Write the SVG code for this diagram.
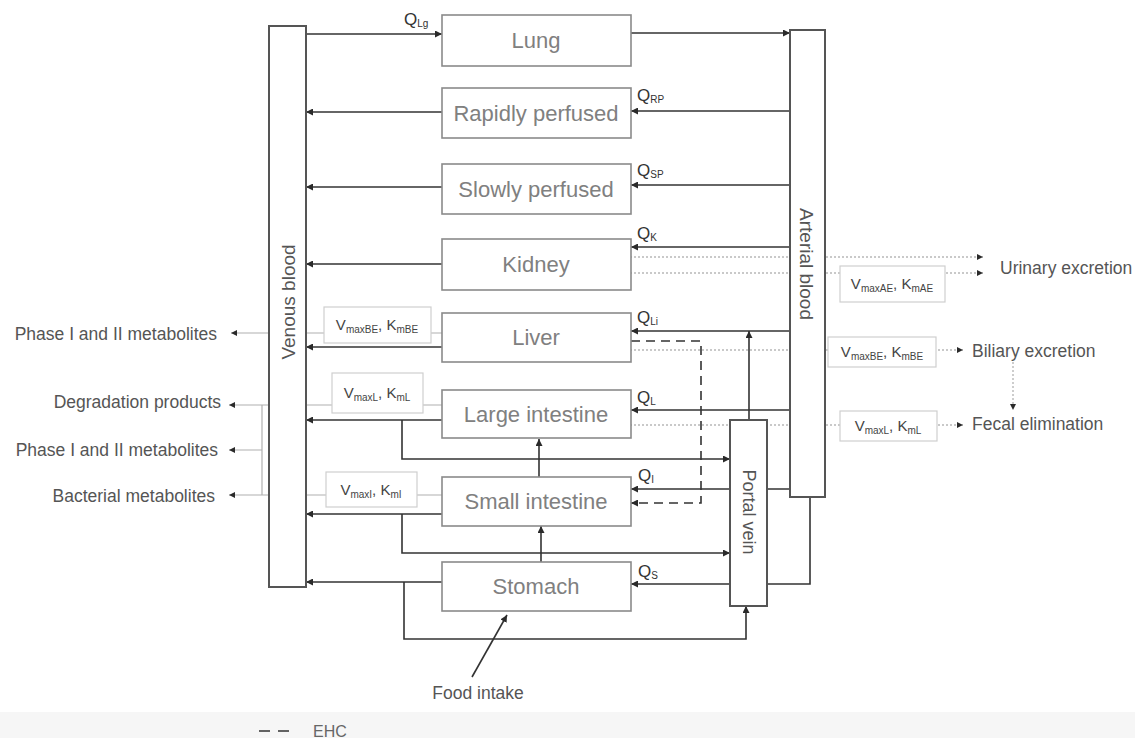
<svg xmlns="http://www.w3.org/2000/svg" width="1135" height="738" viewBox="0 0 1135 738">
<defs>
<marker id="ah" markerUnits="userSpaceOnUse" markerWidth="8" markerHeight="7" refX="7" refY="3.5" orient="auto">
<path d="M0,0 L7,3.5 L0,7 z" fill="#2a2a2a"/>
</marker>
<marker id="ahs" markerUnits="userSpaceOnUse" markerWidth="7" markerHeight="6" refX="6" refY="3" orient="auto">
<path d="M0,0 L6,3 L0,6 z" fill="#2a2a2a"/>
</marker>
</defs>
<style>
.bg{fill:#f6f6f6}
.organ{fill:#fff;stroke:#8a8a8a;stroke-width:1.6}
.blood{fill:#fff;stroke:#555;stroke-width:2}
.vk{fill:#fff;stroke:#cfcfcf;stroke-width:1.2}
.ol{font-family:"Liberation Sans",Arial,sans-serif;font-size:22px;fill:#808080;text-anchor:middle;dominant-baseline:central}
.bl{font-family:"Liberation Sans",Arial,sans-serif;font-size:19px;fill:#555;text-anchor:middle;dominant-baseline:central}
.sl{font-family:"Liberation Sans",Arial,sans-serif;font-size:17.5px;fill:#555;dominant-baseline:central}
.q{font-family:"Liberation Sans",Arial,sans-serif;font-size:17px;fill:#333}
.vt{font-family:"Liberation Sans",Arial,sans-serif;font-size:15px;fill:#444;text-anchor:middle}
.sub{font-size:10px}
.c{fill:none;stroke:#333;stroke-width:1.6}
.dot{fill:none;stroke:#b8b8b8;stroke-width:1.4;stroke-dasharray:2 2}
.thin{fill:none;stroke:#b0b0b0;stroke-width:1.2}
.ehc{fill:none;stroke:#333;stroke-width:1.6;stroke-dasharray:9 6}
</style>
<rect class="bg" x="0" y="712" width="1135" height="26"/>
<g id="connectors">
<!-- dotted elimination lines -->
<path class="dot" d="M630,257 H983" marker-end="url(#ahs)"/>
<path class="dot" d="M630,273 H983" marker-end="url(#ahs)"/>
<path class="dot" d="M630,350 H963" marker-end="url(#ahs)"/>
<path class="dot" d="M630,425 H963" marker-end="url(#ahs)"/>
<path class="dot" d="M1013,362 V410" marker-end="url(#ahs)"/>
<path class="thin" d="M442,333 H231" marker-end="url(#ahs)"/>
<path class="thin" d="M442,405 H229" marker-end="url(#ahs)"/>
<path class="thin" d="M442,495 H229" marker-end="url(#ahs)"/>
<path class="thin" d="M262,405 V495"/>
<path class="thin" d="M262,450 H229" marker-end="url(#ahs)"/>
<!-- blood flows -->
<path class="c" d="M306,34 H442" marker-end="url(#ah)"/>
<path class="c" d="M626,33 H790" marker-end="url(#ah)"/>
<path class="c" d="M790,111 H631" marker-end="url(#ah)"/>
<path class="c" d="M442,112 H306" marker-end="url(#ah)"/>
<path class="c" d="M790,185 H631" marker-end="url(#ah)"/>
<path class="c" d="M442,187 H306" marker-end="url(#ah)"/>
<path class="c" d="M790,247 H631" marker-end="url(#ah)"/>
<path class="c" d="M442,264 H306" marker-end="url(#ah)"/>
<path class="c" d="M790,331 H631" marker-end="url(#ah)"/>
<path class="c" d="M442,347 H306" marker-end="url(#ah)"/>
<path class="c" d="M790,410 H631" marker-end="url(#ah)"/>
<path class="c" d="M442,420 H306" marker-end="url(#ah)"/>
<path class="c" d="M402,420 V459 H730" marker-end="url(#ah)"/>
<path class="c" d="M790,489 H631" marker-end="url(#ah)"/>
<path class="c" d="M442,514 H306" marker-end="url(#ah)"/>
<path class="c" d="M402,514 V553 H730" marker-end="url(#ah)"/>
<path class="c" d="M810,497 V584 H631" marker-end="url(#ah)"/>
<path class="c" d="M442,582 H306" marker-end="url(#ah)"/>
<path class="c" d="M404,582 V639 H746 V606" marker-end="url(#ah)"/>
<path class="c" d="M749,420 V331" marker-end="url(#ah)"/>
<path class="c" d="M539,477 V439" marker-end="url(#ah)"/>
<path class="c" d="M541,562 V526" marker-end="url(#ah)"/>
<path class="c" d="M472,677 L507,615" marker-end="url(#ah)"/>
<path class="ehc" d="M631,341 H701 V503 H631" marker-end="url(#ah)"/>
</g>
<g id="venous-blood">
<rect class="blood" x="269" y="26" width="37" height="561"/>
<text class="bl" transform="translate(288,302) rotate(-90)">Venous blood</text>
</g>
<g id="arterial-blood">
<rect class="blood" x="790" y="30" width="35" height="467"/>
<text class="bl" transform="translate(806,264) rotate(90)">Arterial blood</text>
</g>
<g id="portal-vein">
<rect class="blood" x="730" y="420" width="37" height="186"/>
<text class="bl" transform="translate(749,512) rotate(90)" style="font-size:18px">Portal vein</text>
</g>
<g id="lung">
<rect class="organ" x="442" y="15" width="189" height="51"/>
<text class="ol" x="536" y="40">Lung</text>
<text class="q" x="404" y="25">Q<tspan class="sub" dy="2">Lg</tspan></text>
</g>
<g id="rapidly-perfused">
<rect class="organ" x="442" y="88" width="189" height="50"/>
<text class="ol" x="536" y="113">Rapidly perfused</text>
<text class="q" x="637" y="101">Q<tspan class="sub" dy="2">RP</tspan></text>
</g>
<g id="slowly-perfused">
<rect class="organ" x="442" y="164" width="189" height="50"/>
<text class="ol" x="536" y="189">Slowly perfused</text>
<text class="q" x="637" y="176">Q<tspan class="sub" dy="2">SP</tspan></text>
</g>
<g id="kidney">
<rect class="organ" x="442" y="239" width="189" height="51"/>
<text class="ol" x="536" y="264">Kidney</text>
<text class="q" x="637" y="239">Q<tspan class="sub" dy="2">K</tspan></text>
</g>
<g id="liver">
<rect class="organ" x="442" y="313" width="189" height="49"/>
<text class="ol" x="536" y="337">Liver</text>
<text class="q" x="637" y="323">Q<tspan class="sub" dy="2">Li</tspan></text>
</g>
<g id="large-intestine">
<rect class="organ" x="442" y="390" width="189" height="48"/>
<text class="ol" x="536" y="414">Large intestine</text>
<text class="q" x="637" y="403">Q<tspan class="sub" dy="2">L</tspan></text>
</g>
<g id="small-intestine">
<rect class="organ" x="442" y="477" width="189" height="49"/>
<text class="ol" x="536" y="501">Small intestine</text>
<text class="q" x="638" y="481">Q<tspan class="sub" dy="2">I</tspan></text>
</g>
<g id="stomach">
<rect class="organ" x="442" y="562" width="189" height="49"/>
<text class="ol" x="536" y="586">Stomach</text>
<text class="q" x="638" y="577">Q<tspan class="sub" dy="2">S</tspan></text>
</g>
<g id="vk-liver-left">
<rect class="vk" x="324" y="307" width="107" height="36"/>
<text class="vt" x="377" y="330">V<tspan class="sub" dy="3">maxBE</tspan><tspan dy="-3">, K</tspan><tspan class="sub" dy="3">mBE</tspan></text>
</g>
<g id="vk-large-left">
<rect class="vk" x="332" y="373" width="91" height="40"/>
<text class="vt" x="377" y="398">V<tspan class="sub" dy="3">maxL</tspan><tspan dy="-3">, K</tspan><tspan class="sub" dy="3">mL</tspan></text>
</g>
<g id="vk-small-left">
<rect class="vk" x="326" y="472" width="91" height="35"/>
<text class="vt" x="371" y="495">V<tspan class="sub" dy="3">maxI</tspan><tspan dy="-3">, K</tspan><tspan class="sub" dy="3">mI</tspan></text>
</g>
<g id="vk-urinary">
<rect class="vk" x="840" y="266" width="105" height="36"/>
<text class="vt" x="892" y="289">V<tspan class="sub" dy="3">maxAE</tspan><tspan dy="-3">, K</tspan><tspan class="sub" dy="3">mAE</tspan></text>
</g>
<g id="vk-biliary">
<rect class="vk" x="828" y="337" width="108" height="30"/>
<text class="vt" x="882" y="357">V<tspan class="sub" dy="3">maxBE</tspan><tspan dy="-3">, K</tspan><tspan class="sub" dy="3">mBE</tspan></text>
</g>
<g id="vk-fecal">
<rect class="vk" x="840" y="411" width="97" height="30"/>
<text class="vt" x="888" y="431">V<tspan class="sub" dy="3">maxL</tspan><tspan dy="-3">, K</tspan><tspan class="sub" dy="3">mL</tspan></text>
</g>
<g id="outputs">
<text class="sl" x="217" y="334" text-anchor="end">Phase I and II metabolites</text>
<text class="sl" x="221" y="402" text-anchor="end">Degradation products</text>
<text class="sl" x="218" y="450" text-anchor="end">Phase I and II metabolites</text>
<text class="sl" x="215" y="496" text-anchor="end">Bacterial metabolites</text>
<text class="sl" x="1000" y="268">Urinary excretion</text>
<text class="sl" x="972" y="351">Biliary excretion</text>
<text class="sl" x="972" y="424">Fecal elimination</text>
</g>
<g id="food-intake">
<text class="sl" x="478" y="693" text-anchor="middle">Food intake</text>
</g>
<g id="legend">
<path class="ehc" d="M259,731 H290" style="stroke-dasharray:11 8"/>
<text class="sl" x="313" y="731" style="font-size:16px;fill:#666">EHC</text>
</g>
</svg>
